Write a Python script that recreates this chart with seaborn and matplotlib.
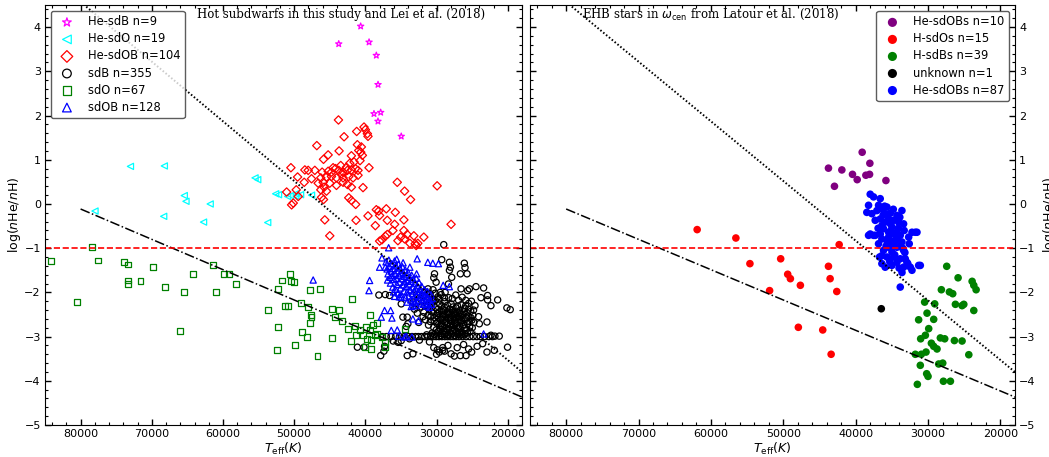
import matplotlib
matplotlib.use('Agg')
import matplotlib.pyplot as plt
from matplotlib.ticker import MultipleLocator
import seaborn as sns
import numpy as np
import pandas as pd

# ---- left panel: hot subdwarfs (Teff [K], log(nHe/nH)) ----
he_sdb = [(43740, 3.62), (40660, 4.02), (39480, 3.66), (38460, 3.36), (38220, 2.70),
          (38790, 2.04), (37850, 2.07), (38230, 1.87), (34960, 1.53)]

he_sdo = [(77980, -0.16), (73000, 0.85), (68240, 0.86), (68330, -0.28), (65440, 0.19),
          (65200, 0.06), (62730, -0.41), (61800, 0.00), (55500, 0.59), (55120, 0.55),
          (53720, -0.42), (52600, 0.23), (52200, 0.21), (50920, 0.17), (50500, 0.19),
          (49800, 0.23), (49100, 0.21), (47560, 0.20), (49760, 0.18)]

he_sdob = [(43780, 1.90), (42990, 1.52), (41220, 1.64), (40190, 1.74), (40000, 1.68),
           (39720, 1.59), (39630, 1.53), (46820, 1.32), (43690, 1.20), (41120, 1.34),
           (40930, 1.21), (40650, 1.17), (45230, 1.11), (45880, 1.01), (41960, 1.09),
           (40420, 1.10), (40750, 0.98), (42190, 0.92), (39490, 0.82), (50460, 0.82),
           (48500, 0.77), (48030, 0.76), (47100, 0.76), (46070, 0.72), (45230, 0.74),
           (44760, 0.72), (44200, 0.80), (43740, 0.76), (43130, 0.72), (42520, 0.76),
           (41960, 0.77), (41400, 0.80), (41030, 0.76), (46260, 0.59), (45460, 0.61),
           (44760, 0.62), (44060, 0.59), (43130, 0.59), (42330, 0.62), (41730, 0.59),
           (41030, 0.65), (46630, 0.47), (45930, 0.49), (45000, 0.47), (44060, 0.42),
           (43130, 0.49), (42520, 0.44), (41960, 0.38), (40330, 0.37), (49520, 0.61),
           (48590, 0.49), (51060, 0.27), (49710, 0.32), (46260, 0.32), (45460, 0.29),
           (49430, 0.17), (35520, 0.49), (34490, 0.29), (33650, 0.10), (29920, 0.41),
           (46160, 0.15), (45880, 0.10), (42330, 0.14), (41960, 0.08), (41360, -0.01),
           (50130, 0.02), (50360, -0.02), (38460, -0.13), (38130, -0.16), (37060, -0.11),
           (39630, -0.27), (35800, -0.19), (36920, -0.37), (34590, -0.36), (45700, -0.36),
           (41310, -0.37), (38600, -0.49), (35890, -0.46), (27960, -0.46), (34590, -0.60),
           (34120, -0.69), (36920, -0.69), (37200, -0.73), (37670, -0.81), (38000, -0.84),
           (45000, -0.72), (35430, -0.83), (33190, -0.72), (31790, -0.75), (33750, -0.89),
           (33000, -0.90), (32860, -0.94), (32630, -0.89), (34490, -0.79), (42660, 0.83),
           (44530, 0.82), (43460, 0.87), (41590, 0.95), (40560, 1.29), (47560, 0.57),
           (43360, 0.68), (45790, 0.38), (38000, -0.26), (36130, -0.60), (35050, -0.75)]

sdb = [(28990, -0.92), (29270, -1.26), (28190, -1.32), (28050, -1.43), (28190, -1.50),
       (26650, -1.58), (25720, -1.58), (28330, -1.81), (28890, -2.12), (26560, -1.92),
       (25630, -1.96), (24460, -1.87), (23760, -2.12), (22830, -2.17), (21420, -2.17),
       (20120, -2.35), (19650, -2.39), (22360, -2.30), (23990, -2.71), (22920, -2.67),
       (22360, -2.97), (21190, -2.99), (21800, -2.99), (22920, -3.35), (25070, -3.35),
       (26650, -3.43), (28890, -3.33), (29130, -3.25), (30390, -3.25), (34120, -3.43),
       (37850, -3.43), (37390, -3.33), (41120, -3.24), (37300, -3.22), (34960, -3.09),
       (34260, -2.77), (34120, -2.56), (34960, -2.26), (36600, -2.07), (32860, -2.24),
       (30760, -2.24), (30060, -1.77), (30390, -1.67), (30290, -1.58), (37200, -2.05),
       (34730, -2.56), (34030, -2.71), (40190, -3.24), (33330, -3.39), (29130, -3.31),
       (27960, -3.39), (25860, -3.43), (21890, -3.31), (20030, -3.24), (23530, -3.16),
       (26100, -1.34), (26000, -1.44), (27870, -1.66), (25390, -1.92), (23390, -1.90),
       (22830, -2.07), (38100, -2.06), (29500, -2.00), (24800, -2.40), (24100, -2.55),
       # dense clump
       (31900, -2.08), (31650, -2.31), (31420, -2.17), (31200, -2.52), (31050, -2.38),
       (30880, -2.66), (30700, -2.44), (30560, -2.21), (30400, -2.79), (30250, -2.57),
       (30120, -2.35), (29980, -2.70), (29850, -2.48), (29700, -2.88), (29560, -2.26),
       (29430, -2.61), (29300, -2.42), (29180, -2.77), (29050, -2.55), (28920, -2.33),
       (28800, -2.68), (28660, -2.91), (28530, -2.47), (28400, -2.59), (28280, -2.82),
       (28150, -2.38), (28020, -2.71), (27900, -2.52), (27760, -2.86), (27630, -2.44),
       (27500, -2.64), (27380, -2.92), (27250, -2.35), (27120, -2.75), (27000, -2.56),
       (26870, -2.83), (26740, -2.41), (26600, -2.67), (26480, -2.90), (26350, -2.50),
       (26220, -2.73), (26100, -2.37), (25970, -2.62), (25850, -2.85), (25720, -2.46),
       (25600, -2.70), (25470, -2.55), (25350, -2.78), (25200, -2.43), (25050, -2.63),
       (24900, -2.52), (24750, -2.68),
       (31780, -2.45), (31560, -2.62), (31300, -2.29), (31130, -2.74), (30960, -2.12),
       (30800, -2.55), (30630, -2.92), (30480, -2.40), (30330, -2.64), (30180, -2.18),
       (30050, -2.85), (29900, -2.39), (29770, -2.58), (29640, -2.15), (29500, -2.76),
       (29360, -2.93), (29240, -2.30), (29110, -2.49), (28980, -2.87), (28850, -2.21),
       (28720, -2.56), (28590, -2.74), (28460, -2.29), (28330, -2.97), (28210, -2.45),
       (28080, -2.62), (27950, -2.26), (27820, -2.79), (27690, -2.33), (27560, -2.51),
       (27430, -2.70), (27300, -2.48), (27180, -2.89), (27050, -2.31), (26930, -2.62),
       (26800, -2.46), (26670, -2.80), (26540, -2.28), (26410, -2.58), (26280, -2.95),
       (26160, -2.44), (26030, -2.81), (25900, -2.30), (25780, -2.57), (25650, -2.92),
       (25530, -2.38), (25400, -2.66), (25280, -2.88), (25130, -2.58), (24980, -2.80),
       (29950, -2.53), (29800, -2.67), (29620, -2.44), (29470, -2.83), (29330, -2.71),
       (29200, -2.60), (29070, -2.40), (28940, -2.78), (28810, -2.50), (28680, -2.65),
       (28550, -2.84), (28420, -2.72), (28300, -2.49), (28170, -2.90), (28040, -2.57),
       (27910, -2.66), (27780, -2.41), (27650, -2.75), (27520, -2.84), (27390, -2.58),
       (27260, -2.68), (27130, -2.45), (27000, -2.79), (26870, -2.54), (26740, -2.92),
       (26610, -2.49), (26480, -2.63), (26350, -2.77), (29880, -2.94), (29400, -2.97),
       (28900, -2.95), (28400, -2.96), (27900, -2.94), (27450, -2.97), (27000, -2.95),
       (26500, -2.96), (26000, -2.94), (30300, -2.95), (30800, -2.97), (31400, -2.96),
       (33100, -2.38), (32700, -2.47), (32400, -2.12), (32150, -2.33), (31900, -2.55),
       (32800, -2.05), (33300, -2.22), (32500, -2.68), (31700, -1.98), (31200, -1.92),
       (30900, -2.03), (30500, -1.94), (30200, -2.02), (29800, -2.10), (29350, -2.05),
       (28800, -2.00), (28300, -2.12), (27800, -2.14), (27300, -2.06), (26900, -2.18),
       (26400, -2.11), (25900, -2.18), (25500, -2.25), (25100, -2.20), (24600, -2.30),
       # the log y = -3 row
       (37620, -3.00), (37050, -3.00), (36400, -3.00), (35750, -3.00), (35200, -3.00),
       (34550, -3.00), (33950, -3.00), (33450, -3.00), (32950, -3.00), (32550, -3.00),
       (32100, -3.00), (31650, -3.00), (31250, -3.00), (30850, -3.00), (30450, -3.00),
       (30050, -3.00), (29650, -3.00), (29250, -3.00), (28850, -3.00), (28450, -3.00),
       (28050, -3.00), (27650, -3.00), (27250, -3.00), (26850, -3.00), (26350, -3.00),
       (25850, -3.00), (25350, -3.00), (24850, -3.00), (24350, -3.00), (23850, -3.00),
       (23250, -3.00), (22650, -3.00), (22150, -3.00),
       (36100, -3.10), (35400, -3.13), (33800, -3.05), (32400, -3.08), (31000, -3.12),
       (30000, -3.40), (29600, -3.35), (28400, -3.20), (27500, -3.44), (27100, -3.25),
       (26200, -3.18), (25500, -3.28), (24300, -3.22), (29900, -3.30)]

sdo = [(84200, -1.30), (78360, -0.98), (77570, -1.28), (80560, -2.21), (73930, -1.32),
       (73370, -1.37), (73370, -1.73), (73370, -1.81), (71590, -1.74), (69870, -1.43),
       (68190, -1.88), (65530, -2.00), (66090, -2.88), (64270, -1.58), (61370, -1.39),
       (60950, -1.99), (59930, -1.59), (59090, -1.59), (58150, -1.81), (50590, -1.58),
       (51760, -1.73), (50450, -1.75), (49990, -1.77), (52320, -1.92), (53630, -2.39),
       (52320, -2.79), (52410, -3.31), (51290, -2.30), (50920, -2.30), (49890, -3.20),
       (49050, -2.24), (48870, -2.90), (48260, -3.01), (48120, -2.33), (47650, -2.52),
       (47560, -2.56), (47790, -2.70), (47790, -1.94), (46390, -1.92), (46720, -3.43),
       (44630, -2.37), (44210, -2.56), (43740, -2.39), (43270, -2.64), (41870, -2.15),
       (44670, -3.03), (42430, -2.82), (42060, -3.09), (41270, -2.97), (40800, -2.86),
       (40330, -2.96), (39870, -2.79), (39400, -2.52), (38930, -2.73), (38320, -2.70),
       (40010, -3.24), (39170, -3.28), (39730, -3.05), (39170, -3.07), (38700, -2.97),
       (37300, -3.24), (37300, -3.13), (34400, -2.82), (37670, -3.01), (38320, -2.94),
       (41500, -2.77), (39400, -2.86)]

sdob = [(47330, -1.72), (36730, -0.99), (37670, -1.22), (38000, -1.43), (39400, -1.73),
        (39490, -1.96), (35890, -2.09), (36360, -2.86), (37300, -2.41), (37760, -2.56),
        (35330, -2.99), (34260, -2.99), (33330, -2.60), (33560, -2.32), (32720, -1.24),
        (31230, -1.32), (30530, -1.34), (29070, -1.84), (23390, -2.94), (36450, -2.41),
        (36270, -2.58), (35520, -2.85), (34500, -3.01), (33470, -3.01), (32860, -2.30),
        (32540, -2.64), (28200, -1.87), (29740, -1.35), (34960, -2.11), (37200, -1.43),
        (37100, -1.31), (36950, -1.47), (36820, -1.58), (36700, -1.27), (36620, -1.41),
        (36540, -1.66), (36480, -1.79), (36390, -1.52), (36300, -1.35), (36210, -1.62),
        (36150, -1.88), (36060, -1.46), (35980, -1.71), (35900, -1.29), (35840, -1.57),
        (35760, -1.93), (35700, -1.40), (35620, -1.68), (35560, -1.82), (35480, -1.51),
        (35420, -2.01), (35350, -1.36), (35290, -1.62), (35210, -1.77), (35150, -1.45),
        (35080, -1.90), (35010, -1.58), (34950, -2.05), (34880, -1.69), (34800, -1.42),
        (34740, -1.83), (34680, -1.55), (34600, -1.97), (34530, -1.64), (34470, -1.76),
        (34400, -1.49), (34330, -2.12), (34260, -1.86), (34190, -1.60), (34120, -1.99),
        (34050, -1.72), (33980, -1.55), (33910, -2.08), (33850, -1.81), (33780, -1.66),
        (33700, -1.94), (33630, -2.17), (33560, -1.75), (33490, -1.61), (33420, -2.02),
        (33350, -1.88), (33280, -1.70), (33200, -2.14), (33130, -1.97), (33060, -1.79),
        (32990, -2.22), (32920, -1.92), (32850, -1.68), (32780, -2.07), (32700, -1.85),
        (32630, -2.19), (32560, -1.98), (32480, -1.77), (32400, -2.11), (32330, -1.93),
        (32250, -2.24), (32170, -2.03), (32090, -1.86), (32000, -2.16), (31920, -1.99),
        (31840, -2.27), (31760, -2.09), (31680, -1.94), (31600, -2.20), (31520, -2.04),
        (31430, -2.31), (31350, -2.13), (31260, -1.98), (31180, -2.25), (31090, -2.10),
        (31000, -2.34), (30900, -2.18), (30800, -2.05), (30700, -2.27), (30600, -2.14),
        (36880, -1.72), (36050, -1.99), (35600, -1.25), (35250, -2.10), (34700, -1.33),
        (34150, -2.22), (33750, -1.43), (33300, -2.30), (32800, -1.58)]

# ---- right panel: EHB stars in omega Cen (Latour et al. 2018) ----
w_he_sdob = [(43760, 0.81), (42930, 0.40), (41910, 0.77), (40440, 0.67), (39790, 0.55),
             (39100, 1.17), (38590, 0.65), (38080, 0.67), (38040, 0.92), (35820, 0.53)]

w_h_sdo = [(61900, -0.58), (56550, -0.77), (54610, -1.35), (50360, -1.24), (49390, -1.59),
           (49020, -1.69), (51890, -1.96), (47640, -1.84), (47920, -2.79), (44550, -2.85),
           (43760, -1.41), (43530, -1.69), (42610, -1.98), (42280, -0.92), (43390, -3.40)]

w_h_sdb = [(31480, -4.08), (31300, -2.62), (31020, -3.05), (30470, -2.22), (30370, -2.97),
           (30140, -2.47), (29910, -2.82), (29220, -2.61), (29080, -2.26), (29540, -3.15),
           (29220, -3.22), (28760, -3.28), (28300, -3.03), (27700, -3.05), (28160, -1.94),
           (28530, -3.62), (27970, -3.60), (27880, -4.01), (27420, -1.41), (27050, -1.99),
           (26590, -2.03), (26220, -2.27), (26360, -3.09), (25850, -1.67), (25300, -2.30),
           (25060, -2.27), (25300, -3.10), (23910, -1.75), (23680, -1.84), (23360, -1.94),
           (23680, -2.41), (24370, -3.41), (26910, -4.01), (31760, -3.40), (30930, -3.40),
           (31070, -3.65), (30280, -3.35), (30190, -3.84), (30000, -3.90)]

w_unknown = [(36460, -2.37)]

w_he_sdob2 = [(37990, 0.22), (37530, 0.16), (36610, 0.12), (38220, -0.03), (36840, -0.03),
              (36380, -0.11), (35680, -0.07), (35220, -0.21), (38460, -0.19), (37760, -0.22),
              (33610, -0.15), (37300, -0.37), (36610, -0.34), (35920, -0.41), (34760, -0.37),
              (34070, -0.41), (33380, -0.45), (34990, -0.52), (36150, -0.56), (35450, -0.64),
              (34300, -0.64), (37990, -0.68), (37300, -0.71), (32220, -0.64), (31530, -0.64),
              (36380, -0.79), (35680, -0.83), (34530, -0.83), (33610, -0.86), (32680, -0.75),
              (34990, -0.94), (33840, -0.94), (36150, -1.05), (34990, -1.09), (33380, -1.05),
              (36380, -1.17), (35680, -1.20), (33840, -1.24), (33150, -1.24), (36380, -1.35),
              (34990, -1.39), (33380, -1.43), (32450, -1.43), (32220, -1.50), (31070, -1.39),
              (33840, -1.88), (37070, -0.15), (35920, -0.22), (34300, -0.26), (35450, -0.34),
              (36380, -0.49), (34760, -0.68), (33840, -0.71), (35450, -0.75), (36840, -0.90),
              (34300, -0.98), (35450, -0.98), (34760, -1.20), (34300, -1.32), (35920, -1.43),
              (32920, -1.32), (38220, -0.71), (37530, -0.71), (31760, -0.64), (31300, -1.39),
              (36000, -0.05), (34800, -0.12), (33900, -0.30), (36900, -0.55), (35200, -0.45),
              (34100, -0.55), (33300, -0.60), (36600, -0.68), (35800, -0.95), (33500, -1.00),
              (32600, -0.90), (34600, -1.15), (33200, -1.10), (35300, -1.30), (36700, -1.20),
              (32800, -1.35), (34000, -1.45), (33600, -1.55), (35000, -0.85), (34400, -0.80),
              (36200, -0.25), (35100, -0.60)]

# reference sequences, log(nHe/nH) = a + b * (Teff/1e4 - 2)
seq_T = [80000, 15000]
dotted_ab = (-3.53, 1.35)
dashdot_ab = (-4.23, 0.686)

FS = 8.3


def to_df(pairs):
    return pd.DataFrame(pairs, columns=['teff', 'logy'])


def draw_sequences(ax):
    T = np.array(seq_T, dtype=float)
    ax.plot(T, dotted_ab[0] + dotted_ab[1] * (T / 1e4 - 2), color='black',
            ls=(0, (0.8, 1.1)), lw=1.4)
    ax.plot(T, dashdot_ab[0] + dashdot_ab[1] * (T / 1e4 - 2), color='black', ls='-.', lw=1.1)
    ax.axhline(-1, color='red', ls='--', lw=1.2)


def style_axes(ax, right=False):
    ax.set_xlim(85000, 18000)
    ax.set_ylim(-5, 4.5)
    ax.xaxis.set_major_locator(MultipleLocator(10000))
    ax.xaxis.set_minor_locator(MultipleLocator(2000))
    ax.yaxis.set_major_locator(MultipleLocator(1))
    ax.yaxis.set_minor_locator(MultipleLocator(0.2))
    ax.tick_params(which='both', direction='in', top=True, right=True, labelsize=8, pad=3)
    ax.tick_params(which='major', length=4.5, width=1)
    ax.tick_params(which='minor', length=2.2, width=0.8)
    ax.set_xlabel(r'$T_{\rm eff}(K)$', fontsize=9, labelpad=1)
    ax.set_ylabel(r'log($n$He/$n$H)', fontsize=9, labelpad=1)
    if right:
        ax.tick_params(labelleft=False, labelright=True)
        ax.yaxis.set_label_position('right')
        ax.yaxis.labelpad = 4
    for sp in ax.spines.values():
        sp.set_color('black')


fig = plt.figure(figsize=(10.49, 4.57), dpi=100)
ax1 = fig.add_axes([0.0429, 0.070, 0.4547, 0.919])
ax2 = fig.add_axes([0.5052, 0.070, 0.4623, 0.919])

left_groups = [
    (he_sdb, 'He-sdB n=9', 'magenta', '*', 22),
    (he_sdo, 'He-sdO n=19', 'cyan', '<', 20),
    (he_sdob, 'He-sdOB n=104', 'red', 'D', 18),
    (sdb, 'sdB n=355', 'black', 'o', 20),
    (sdo, 'sdO n=67', 'green', 's', 18),
    (sdob, 'sdOB n=128', 'blue', '^', 20),
]
for pairs, label, col, mk, size in left_groups:
    d = to_df(pairs)
    sns.scatterplot(data=d, x='teff', y='logy', ax=ax1, marker=mk, s=size,
                    color=col, facecolor='none', edgecolor=col, linewidth=0.9, label=label)
draw_sequences(ax1)
style_axes(ax1)
ax1.legend(loc='upper left', fontsize=FS, markerscale=1.4, frameon=True,
           edgecolor='0.2', labelspacing=0.35, borderpad=0.4)
ax1.text(0.318, 0.978, 'Hot subdwarfs in this study and Lei et al. (2018)',
         transform=ax1.transAxes, ha='left', va='center', fontsize=8.5, family='DejaVu Serif')

right_groups = [
    (w_he_sdob, 'He-sdOBs n=10', 'purple'),
    (w_h_sdo, 'H-sdOs n=15', 'red'),
    (w_h_sdb, 'H-sdBs n=39', 'green'),
    (w_unknown, 'unknown n=1', 'black'),
    (w_he_sdob2, 'He-sdOBs n=87', 'blue'),
]
for pairs, label, col in right_groups:
    d = to_df(pairs)
    sns.scatterplot(data=d, x='teff', y='logy', ax=ax2, marker='o', s=30,
                    color=col, edgecolor='none', linewidth=0, label=label)
draw_sequences(ax2)
style_axes(ax2, right=True)
ax2.legend(loc='upper right', fontsize=FS, markerscale=1.2, frameon=True,
           edgecolor='0.2', labelspacing=0.35, borderpad=0.4)
ax2.text(0.107, 0.978, r'EHB stars in $\omega_{\rm cen}$ from Latour et al. (2018)',
         transform=ax2.transAxes, ha='left', va='center', fontsize=8.5, family='DejaVu Serif')

fig.savefig('out.png', dpi=100)
